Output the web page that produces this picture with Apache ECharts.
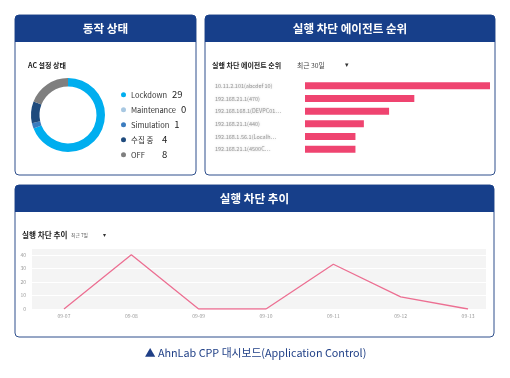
<!DOCTYPE html>
<html><head><meta charset="utf-8">
<script src="https://cdn.jsdelivr.net/npm/echarts@6/dist/echarts.min.js"></script>
<style>html,body{margin:0;padding:0;background:#fff}#c{width:510px;height:378px}</style>
</head><body><div id="c"></div>
<script>
const statusNames = ['Lockdown', 'Maintenance', 'Simulation', '수집 중', 'OFF'];
const statusValues = [29, 0, 1, 4, 8];
const agentLabels = ['10.11.2.101(abcdef 10)', '192.168.21.1(470)', '192.168.168.1(DEVPC01…', '192.168.21.1(440)', '192.168.1.56.1(Localh…', '192.168.21.1(4500C…'];
const agentValues = [22, 13, 10, 7, 6, 6];
const trendDates = ['09-07', '09-08', '09-09', '09-10', '09-11', '09-12', '09-13'];
const trendValues = [0, 40, 0, 0, 33, 9, 0];

const FONT = '"Noto Sans CJK KR", "Noto Sans", sans-serif';
const HEAD = '#173f8a';
const BORDER = '#2f4f8c';

function panel(x, y, w, h, title) {
  return [
    { type: 'rect', shape: { x: x, y: y, width: w, height: h, r: 4 }, style: { fill: '#fff', stroke: BORDER, lineWidth: 1 }, z: 0 },
    { type: 'rect', shape: { x: x, y: y, width: w, height: 27, r: [4, 4, 0, 0] }, style: { fill: HEAD }, z: 1 },
    { type: 'text', x: x + w / 2, y: y + 13.5, style: { text: title, fill: '#fff', font: 'bold 11.6px ' + FONT, textAlign: 'center', textVerticalAlign: 'middle' }, z: 2 }
  ];
}
function txt(x, y, s, size, weight, color, extra) {
  return Object.assign({ type: 'text', x: x, y: y, style: { text: s, fill: color, font: (weight || 'normal') + ' ' + size + 'px ' + FONT, textAlign: 'left', textVerticalAlign: 'middle' }, z: 3 }, extra || {});
}

const graphics = [].concat(
  panel(15, 15, 181, 160, '동작 상태'),
  panel(205, 15, 290, 160, '실행 차단 에이전트 순위'),
  panel(15, 185, 479, 152, '실행 차단 추이'),
  [
    txt(28, 65, 'AC 설정 상태', 7, 'bold', '#222'),
    txt(212, 65, '실행 차단 에이전트 순위', 7, 'bold', '#222'),
    txt(297, 65.5, '최근 30일', 6.8, 'normal', '#444'),
    txt(345, 64.5, '▾', 7, 'normal', '#333'),
    txt(22, 235, '실행 차단 추이', 7.6, 'bold', '#222'),
    txt(71, 235.5, '최근 7일', 4.8, 'normal', '#555'),
    txt(103, 234.5, '▾', 6, 'normal', '#333'),
    { type: 'text', x: 255.5, y: 353, style: { text: '▲ AhnLab CPP 대시보드(Application Control)', fill: '#1f3f86', font: 'normal 10.8px ' + FONT, textAlign: 'center', textVerticalAlign: 'middle' }, z: 3 }
  ]
);

const chart = echarts.init(document.getElementById('c'), null, { renderer: 'canvas' });
chart.setOption({
  animation: false,
  textStyle: { fontFamily: FONT },
  graphic: { elements: graphics },
  color: ['#00aeef', '#a8c8e2', '#3b7cbf', '#1f4b7d', '#7f7f7f'],
  legend: {
    data: statusNames,
    orient: 'vertical',
    left: 116, top: 85,
    itemWidth: 5, itemHeight: 5, itemGap: 5.5,
    icon: 'circle',
    formatter: function (name) {
      const v = statusValues[statusNames.indexOf(name)];
      const style = name.length <= 4 ? 's' : 'n';
      return '{' + style + '|' + name + '}{v|' + v + '}';
    },
    textStyle: {
      rich: {
        n: { fontSize: 7.5, color: '#333', lineHeight: 10, padding: [0, 5, 0, 0], fontFamily: FONT },
        s: { fontSize: 7.5, color: '#333', lineHeight: 10, width: 31, fontFamily: FONT },
        v: { fontSize: 9.5, color: '#222', lineHeight: 10, fontFamily: FONT }
      }
    },
    z: 5
  },
  grid: [
    { left: 305, right: 20, top: 79.5, height: 76, z: 5 },
    { left: 32, right: 24, top: 248, bottom: 69, z: 5 }
  ],
  xAxis: [
    { gridIndex: 0, type: 'value', min: 0, max: 22, show: false },
    {
      gridIndex: 1, type: 'value', min: -0.475, max: 6.267,
      axisLine: { show: false }, axisTick: { show: false }, splitLine: { show: false },
      axisLabel: {
        customValues: trendDates.map(function (d, i) { return i; }),
        formatter: function (v) { return trendDates[Math.round(v)] || ''; },
        fontSize: 5, color: '#999', margin: 5
      }
    }
  ],
  yAxis: [
    {
      gridIndex: 0, type: 'category', data: agentLabels, inverse: true,
      axisLine: { show: false }, axisTick: { show: false }, splitLine: { show: false },
      axisLabel: { align: 'left', margin: 90, fontSize: 5.5, color: '#9a9a9a', textShadowColor: '#c0c0c0', textShadowBlur: 2.5 }
    },
    {
      gridIndex: 1, type: 'value', min: 0, max: 45, interval: 10,
      axisLine: { show: false }, axisTick: { show: false },
      axisLabel: { fontSize: 5, color: '#999', margin: 6, showMaxLabel: false },
      splitLine: { show: true, lineStyle: { color: '#ffffff', width: 1.2 } },
      splitArea: { show: true, areaStyle: { color: ['#f4f4f4', '#f4f4f4'] } }
    }
  ],
  series: [
    {
      type: 'pie', center: [68, 115], radius: [28.5, 37], startAngle: 90, clockwise: true,
      label: { show: false }, labelLine: { show: false }, silent: true,
      data: statusNames.map(function (n, i) { return { name: n, value: statusValues[i] }; })
    },
    {
      type: 'bar', xAxisIndex: 0, yAxisIndex: 0, data: agentValues, barWidth: 7,
      itemStyle: { color: '#ef4470' }, silent: true
    },
    {
      type: 'line', xAxisIndex: 1, yAxisIndex: 1,
      data: trendValues.map(function (v, i) { return [i, v]; }),
      showSymbol: false, lineStyle: { color: '#ec6f92', width: 1.3 }, silent: true
    }
  ]
});
</script></body></html>
